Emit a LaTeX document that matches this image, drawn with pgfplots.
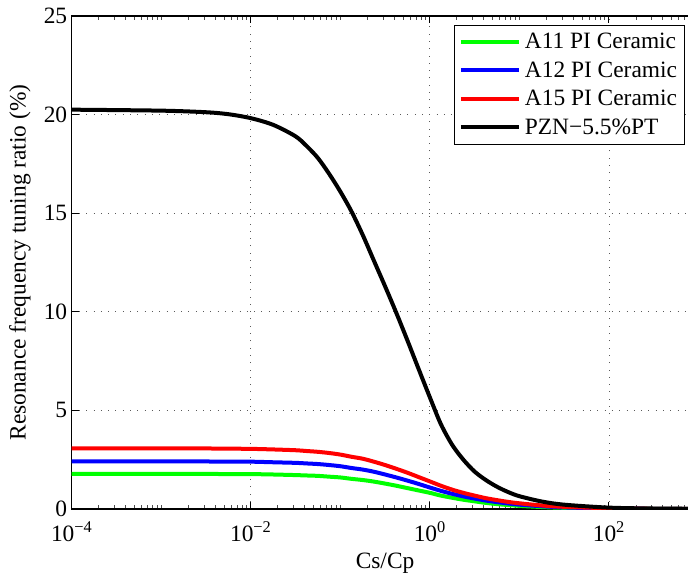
\documentclass[border=0pt]{standalone}
\usepackage{fontspec}
\setmainfont{Liberation Serif}
\usepackage{pgfplots}
\pgfplotsset{compat=1.18}
\usepackage{pgfplotstable}
\newcommand\ff{\fontsize{23.4}{27}\selectfont}
\definecolor{mgreen}{rgb}{0,1,0}
\definecolor{mblue}{rgb}{0,0,1}
\definecolor{mred}{rgb}{1,0,0}

\pgfplotstableread{
x       red   blue  green black
1e-4    3.08  2.42  1.78  20.25
1e-3    3.08  2.42  1.78  20.2
3.16e-3 3.07  2.41  1.78  20.12
5.62e-3 3.06  2.40  1.77  20.02
0.01    3.05  2.40  1.77  19.82
0.0178  3.02  2.37  1.75  19.48
0.0316  2.98  2.34  1.72  18.9
0.0422  2.94  2.31  1.70  18.4
0.0562  2.90  2.28  1.68  17.8
0.075   2.84  2.23  1.64  17.0
0.1     2.76  2.17  1.60  16.1
0.133   2.65  2.08  1.53  15.1
0.178   2.55  2.00  1.47  13.9
0.237   2.40  1.89  1.39  12.6
0.316   2.23  1.75  1.29  11.3
0.422   2.04  1.60  1.18  9.95
0.562   1.84  1.44  1.06  8.55
0.75    1.62  1.27  0.94  7.1
1       1.40  1.09  0.82  5.67
1.33    1.18  0.92  0.68  4.3
1.78    0.98  0.77  0.57  3.25
2.37    0.82  0.64  0.47  2.5
3.16    0.68  0.53  0.39  1.9
4.22    0.55  0.43  0.31  1.47
5.62    0.45  0.35  0.25  1.13
7.5     0.36  0.28  0.20  0.86
10      0.29  0.22  0.16  0.65
17.8    0.18  0.14  0.10  0.38
31.6    0.11  0.08  0.06  0.22
100     0.04  0.03  0.02  0.07
316     0.01  0.01  0.005 0.025
1000    0.004 0.003 0.002 0.008
}\data

\begin{document}
\begin{tikzpicture}
\begin{axis}[
  xmode=log, scale only axis, width=626.7pt, height=493pt,
  xmin=1e-4, xmax=1e3, ymin=0, ymax=25,
  xtick={1e-4,1e-2,1,1e2},
  xticklabels={10\textsuperscript{−4},10\textsuperscript{−2},10\textsuperscript{0},10\textsuperscript{2}},
  minor xtick={2e-4,3e-4,4e-4,5e-4,6e-4,7e-4,8e-4,9e-4,
    1e-3,2e-3,3e-3,4e-3,5e-3,6e-3,7e-3,8e-3,9e-3,
    2e-2,3e-2,4e-2,5e-2,6e-2,7e-2,8e-2,9e-2,
    1e-1,2e-1,3e-1,4e-1,5e-1,6e-1,7e-1,8e-1,9e-1,
    2,3,4,5,6,7,8,9,10,20,30,40,50,60,70,80,90,
    200,300,400,500,600,700,800,900},
  ytick={0,5,10,15,20,25},
  /pgf/number format/assume math mode=true,
  tick label style={font=\ff},
  yticklabel style={xshift=-1pt},
  xticklabel style={yshift=-9pt},
  label style={font=\ff},
  xlabel={Cs/Cp},
  ylabel={Resonance frequency tuning ratio (\%)},
  xlabel style={at={(axis description cs:0.5,-0.1197)}, anchor=base},
  ylabel style={at={(axis description cs:-0.0825,0.5)}, anchor=center, rotate=0},
  grid=major,
  major grid style={black!65, line width=0.7pt, dash pattern=on 0.8pt off 6.5pt},
  tick align=inside,
  major tick length=7pt, minor tick length=4pt,
  tick style={black, line width=0.8pt},
  minor tick style={black!70, line width=0.6pt},
  axis line style={line width=1.5pt},
  legend cell align=left,
  legend style={font=\ff, at={(1,1)}, anchor=north east, xshift=-14pt, yshift=-9pt,
    draw=black, line width=0.8pt, inner xsep=5pt, inner ysep=7pt, row sep=9.5pt,
    column sep=2pt, nodes={inner xsep=2pt, inner ysep=1pt}},
  legend image code/.code={\path (0pt,0pt) -- (58pt,0pt); \draw[#1] (5pt,0pt) -- (58pt,0pt);},
]
\coordinate (sw) at (rel axis cs:0,0);
\coordinate (ne) at (rel axis cs:1,1);
\addplot[mgreen, line width=4pt, smooth, line join=round] table[x=x,y=green]{\data};
\addlegendentry{A11 PI Ceramic}
\addplot[mblue, line width=4pt, smooth, line join=round] table[x=x,y=blue]{\data};
\addlegendentry{A12 PI Ceramic}
\addplot[mred, line width=4pt, smooth, line join=round] table[x=x,y=red]{\data};
\addlegendentry{A15 PI Ceramic}
\addplot[black, line width=4pt, smooth, line join=round] table[x=x,y=black]{\data};
\addlegendentry{PZN−5.5\%PT}
\end{axis}
\pgfresetboundingbox
\path[use as bounding box] ([xshift=-71.7pt,yshift=-67pt]sw) rectangle ([xshift=-10.4pt,yshift=16pt]ne);
\end{tikzpicture}
\end{document}
